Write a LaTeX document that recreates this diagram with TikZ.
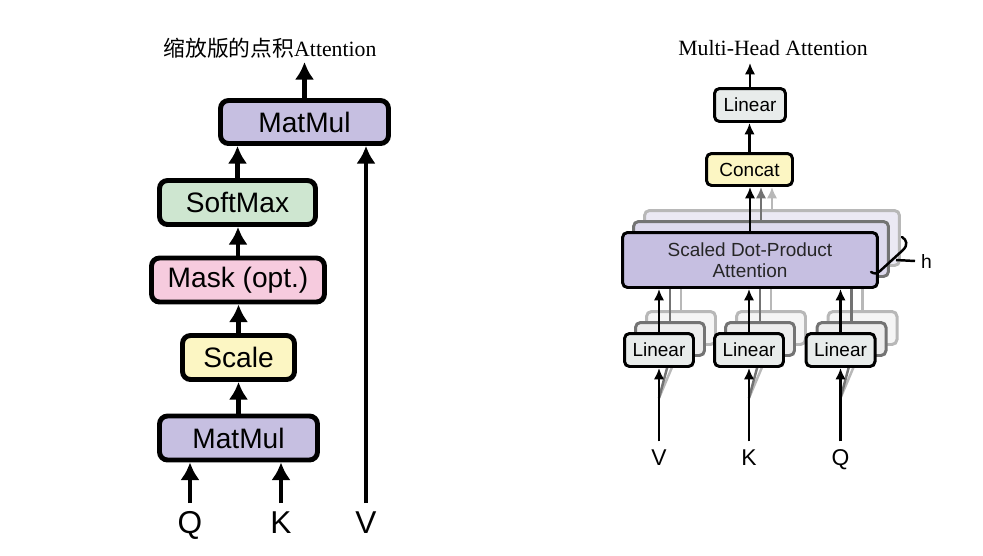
\documentclass[tikz,border=0pt]{standalone}
\usepackage{fontspec}
\setmainfont{Liberation Serif}
\setsansfont{Liberation Sans}
\newfontfamily\cjkfont{Noto Sans CJK SC}
\usetikzlibrary{arrows.meta}

\definecolor{cmatmul}{RGB}{198,191,225}
\definecolor{csoft}{RGB}{206,230,208}
\definecolor{cmask}{RGB}{246,203,222}
\definecolor{cscale}{RGB}{252,246,195}
\definecolor{clinear}{RGB}{232,236,235}

\begin{document}
\begin{tikzpicture}[x=0.02cm,y=-0.02cm]

\useasboundingbox (0,0) rectangle (983,555);

\tikzset{%
  op/.style={draw,line width=2.8pt,rounded corners=0.16cm,inner sep=0pt,
    minimum height=0.88cm,font=\sffamily\fontsize{16}{18}\selectfont},
  arr/.style={line width=2.3pt,-{Latex[length=10pt,width=11pt]}},
  lbl/.style={inner sep=4pt,text height=13pt,text depth=0pt,font=\sffamily\fontsize{18}{20}\selectfont},
  ttl/.style={font=\fontsize{12.4}{14}\selectfont},
}

% scaled dot-product attention
\node[ttl] (t1) at (270,48) {{\cjkfont 缩放版的点积}Attention};

\node[op,fill=cmatmul,minimum width=3.16cm] (mm1) at (238.5,438) {MatMul};
\node[op,fill=cscale,minimum width=2.24cm] (scl) at (238.5,357.5) {Scale};
\node[op,fill=cmask,minimum width=3.46cm] (msk) at (238,280) {Mask (opt.)};
\node[op,fill=csoft,minimum width=3.12cm] (sfm) at (237.5,202.5) {SoftMax};
\node[op,fill=cmatmul,minimum width=3.36cm,minimum height=0.86cm] (mm2) at (304.5,122) {MatMul};

\node[lbl] (q) at (190,522) {Q};
\node[lbl] (k) at (281,522) {K};
\node[lbl] (v) at (366,522) {V};

\draw[arr] (q.north) -- (q.north |- mm1.south);
\draw[arr] (k.north) -- (k.north |- mm1.south);
\draw[arr] (v.north) -- (v.north |- mm2.south);
\draw[arr] (mm1.north) -- (scl.south);
\draw[arr] (scl.north) -- (scl.north |- msk.south);
\draw[arr] (msk.north) -- (msk.north |- sfm.south);
\draw[arr] (sfm.north) -- (sfm.north |- mm2.south);
\coordinate (out1) at (304.5,62);
\draw[arr] (mm2.north) -- (out1);

% multi-head attention
\tikzset{%
  rbox/.style={draw,line width=1.7pt,rounded corners=0.1cm,inner sep=0pt,
    minimum width=1.38cm,minimum height=0.66cm,font=\sffamily\fontsize{10.8}{12}\selectfont},
  sdpa/.style={rbox,minimum width=5.1cm,minimum height=1.1cm,align=center,text=black!85},
  rarr/.style={line width=1.5pt,-{Latex[length=6.5pt,width=6pt]}},
  rlbl/.style={inner sep=4pt,text height=9.5pt,text depth=0pt,font=\sffamily\fontsize{13}{15}\selectfont},
  gone/.style={draw=black!55,fill=white!93!black},
  gtwo/.style={draw=black!28,fill=white!96!black},
  gline/.style={line width=1.4pt,draw=black!55},
  gfaint/.style={line width=1.4pt,draw=black!28},
}

\node[ttl] (t2) at (773,48) {Multi-Head Attention};

\coordinate (out2) at (750,63);
\node[rbox,fill=clinear,minimum width=1.42cm] (lin4) at (750,105) {Linear};
\node[rbox,fill=cscale,minimum width=1.72cm,minimum height=0.64cm] (cat) at (749.5,169.5) {Concat};
\draw[rarr] (lin4.north) -- (out2);
\draw[rarr] (cat.north) -- (cat.north |- lin4.south);

\node[sdpa,gtwo,fill=cmatmul!35!white] (sdpa3) at (772,238) {};
\node[sdpa,gone,fill=cmatmul!60!white] (sdpa2) at (761,249) {};
\draw[rarr,black!28] (sdpa3.north) -- (sdpa3.north |- cat.south);
\draw[rarr,black!55] (sdpa2.north) -- (sdpa2.north |- cat.south);
\node[sdpa,fill=cmatmul] (sdpa) at (750,260) {Scaled Dot-Product\\Attention};
\draw[rarr] (sdpa.north) -- (sdpa.north |- cat.south);

\foreach \n/\x/\t in {1/659/V,2/749/K,3/840.5/Q}{
  \node[rbox,gtwo] (linc\n) at (\x+22,328) {};
  \node[rbox,gone] (linb\n) at (\x+11,339) {};
  \draw[gfaint] (linc\n.north) -- (linc\n.north |- sdpa.south);
  \draw[gline] (linb\n.north) -- (linb\n.north |- sdpa.south);
  \node[rlbl] (in\n) at (\x,457) {\t};
  \coordinate (split\n) at (\x,398);
  \draw[gfaint] (split\n) -- (linc\n.south);
  \draw[gline] (split\n) -- (linb\n.south);
  \node[rbox,fill=clinear] (lin\n) at (\x,350) {Linear};
  \draw[rarr] (lin\n.north) -- (lin\n.north |- sdpa.south);
  \draw[rarr] (in\n.north) -- (lin\n.south);
}

% h brace
\draw[line width=1.4pt,line cap=round] (902,237) .. controls (907,240) and (908,245) .. (903,250)
  -- (880,271) .. controls (877,274) and (874,274) .. (871,272);
\coordinate (tick) at (896,260);
\node[font=\sffamily\fontsize{11}{13}\selectfont,anchor=west] (hl) at (915,261) {h};
\draw[line width=1.4pt] (tick) -- (hl.west);

\end{tikzpicture}
\end{document}
